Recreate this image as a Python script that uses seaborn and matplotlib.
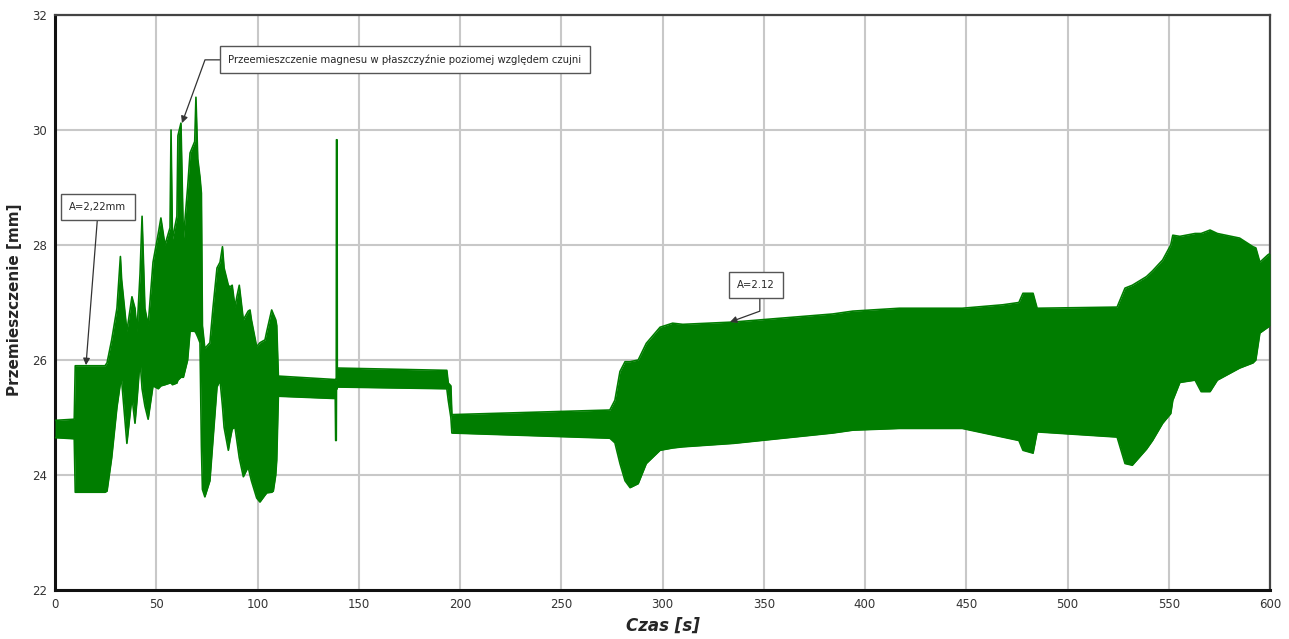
import matplotlib
matplotlib.use("Agg")
import matplotlib.pyplot as plt
import seaborn as sns
import pandas as pd

# ---- data (envelope of the dense oscillation) ----
time_s = [0, 9.5, 10.0, 24.7, 25.7, 28, 30.6, 32.3, 32.9, 35.5, 38, 39.5, 40.5, 42, 43,
          44.4, 46, 48.4, 51, 52.3, 54.3, 56.8, 57.3, 58.0, 60.2, 60.7, 62.2, 63.4, 65.5,
          66.7, 69.0, 69.6, 70.5, 71.6, 72.3, 72.8, 74, 76.5, 78, 80, 81.5, 82.7, 83.5,
          85.6, 86.4, 87.5, 88.9, 89.8, 91, 93, 95.4, 96.3, 97, 99.6, 101.2, 103.7, 104.6,
          107, 107.8, 109, 109.5, 110.3, 138.4, 138.6, 138.9, 139.0, 139.3, 139.4, 193.5,
          194.2, 195.5, 196.0, 274, 276.5, 279, 281.5, 284, 288, 292, 298.8, 305, 310, 335,
          384, 394, 417, 448, 468, 476, 478, 483, 485, 524.5, 528.4, 532, 539, 542, 547,
          551, 552, 555.5, 563, 566, 570.4, 574, 585, 591.6, 593, 595, 599, 600]
upper_mm = [24.95, 24.97, 25.90, 25.90, 25.95, 26.35, 26.9, 27.8, 27.4, 26.5, 27.1, 26.9,
            26.5, 27.5, 28.5, 26.9, 26.6, 27.7, 28.2, 28.47, 28.0, 28.3, 30.0, 28.1, 28.5,
            29.9, 30.12, 28.1, 29.0, 29.6, 29.8, 30.57, 29.5, 29.18, 28.9, 26.6, 26.2, 26.3,
            26.9, 27.6, 27.7, 27.97, 27.6, 27.3, 27.27, 27.3, 26.92, 27.1, 27.3, 26.7, 26.85,
            26.87, 26.7, 26.23, 26.3, 26.35, 26.5, 26.87, 26.8, 26.7, 26.6, 25.72, 25.66,
            25.66, 25.66, 29.83, 29.83, 25.86, 25.82, 25.6, 25.55, 25.05, 25.13, 25.3, 25.8,
            25.97, 25.97, 26.0, 26.29, 26.57, 26.64, 26.62, 26.66, 26.8, 26.85, 26.9, 26.9,
            26.96, 27.0, 27.16, 27.16, 26.9, 26.92, 27.25, 27.3, 27.45, 27.55, 27.74, 28.0,
            28.17, 28.15, 28.2, 28.2, 28.26, 28.2, 28.12, 27.97, 27.95, 27.7, 27.83, 27.85]
lower_mm = [24.65, 24.63, 23.70, 23.70, 23.72, 24.3, 25.18, 25.6, 25.65, 24.55, 25.36, 24.9,
            25.3, 26.0, 25.5, 25.2, 24.97, 25.55, 25.5, 25.55, 25.57, 25.6, 25.6, 25.57, 25.6,
            25.65, 25.7, 25.7, 26.0, 26.5, 26.5, 26.47, 26.4, 26.3, 24.5, 23.75, 23.62, 23.9,
            24.6, 25.53, 25.65, 25.2, 24.83, 24.43, 24.6, 24.8, 24.83, 24.6, 24.3, 23.97,
            24.14, 24.0, 23.9, 23.6, 23.53, 23.65, 23.69, 23.7, 23.72, 24.0, 24.26, 25.37,
            25.33, 24.6, 24.6, 25.5, 25.5, 25.53, 25.5, 25.3, 25.0, 24.73, 24.64, 24.56, 24.2,
            23.9, 23.78, 23.85, 24.2, 24.43, 24.47, 24.49, 24.55, 24.73, 24.78, 24.81, 24.81,
            24.66, 24.6, 24.43, 24.38, 24.75, 24.66, 24.2, 24.17, 24.45, 24.6, 24.9, 25.07,
            25.3, 25.61, 25.65, 25.45, 25.45, 25.65, 25.86, 25.95, 26.0, 26.47, 26.57, 26.6]

x_ticks = [0, 50, 100, 150, 200, 250, 300, 350, 400, 450, 500, 550, 600]
y_ticks = [22, 24, 26, 28, 30, 32]

ann_texts = ["A=2,22mm",
             "Przeemieszczenie magnesu w płaszczyźnie poziomej względem czujni",
             "A=2.12"]
ann_points = [(15.3, 25.91), (62.7, 30.12), (333.3, 26.66)]
ann_boxes = [(21.2, 28.66), (172.8, 31.22), (346.2, 27.3)]

df = pd.DataFrame({"t": time_s, "hi": upper_mm, "lo": lower_mm})

sns.set_style("white")
plt.rcParams["font.family"] = ["DejaVu Sans"]

GREEN = "#007d00"
fig = plt.figure(figsize=(12.89, 6.39), dpi=100)
ax = fig.add_axes([55 / 1289, 1 - 590 / 639, 1215 / 1289, 575 / 639])

ax.fill_between(df["t"], df["lo"], df["hi"], color=GREEN, linewidth=0, zorder=3)
sns.lineplot(data=df, x="t", y="hi", ax=ax, color=GREEN, linewidth=1.2, zorder=3)
sns.lineplot(data=df, x="t", y="lo", ax=ax, color=GREEN, linewidth=1.2, zorder=3)

ax.set_xlim(0, 600)
ax.set_ylim(22, 32)
ax.set_xticks(x_ticks)
ax.set_yticks(y_ticks)
ax.grid(True, color="#c8c8c8", linewidth=1.5, zorder=0)
ax.set_axisbelow(True)
ax.tick_params(length=0, labelsize=8.5, labelcolor="#333333", pad=6)

for side in ["left", "bottom"]:
    ax.spines[side].set_linewidth(2.2)
    ax.spines[side].set_color("#111111")
for side in ["top", "right"]:
    ax.spines[side].set_linewidth(1.6)
    ax.spines[side].set_color("#444444")

ax.set_xlabel("Czas [s]", fontsize=12, fontweight="bold", fontstyle="italic")
ax.set_ylabel("Przemieszczenie [mm]", fontsize=11, fontweight="bold")
ax.xaxis.set_label_coords(0.5, -0.047)
ax.yaxis.set_label_coords(-0.027, 0.504)

box = dict(boxstyle="square,pad=0.8", fc="white", ec="#555555", lw=1.0)
arrow_common = dict(arrowstyle="-|>", color="#333333", lw=0.9, mutation_scale=10,
                    shrinkA=0, shrinkB=0)

ax.annotate(ann_texts[0], xy=ann_points[0], xytext=ann_boxes[0], fontsize=7.3,
            ha="center", va="center", bbox=box, zorder=6,
            arrowprops=dict(**arrow_common, relpos=(0.5, 0.0)))
ax.annotate(ann_texts[1], xy=ann_points[1], xytext=ann_boxes[1], fontsize=7.3,
            ha="center", va="center", bbox=box, zorder=6,
            arrowprops=dict(**arrow_common, relpos=(0.0, 0.5),
                            connectionstyle="angle,angleA=0,angleB=70,rad=0"))
ax.annotate(ann_texts[2], xy=ann_points[2], xytext=ann_boxes[2], fontsize=7.3,
            ha="center", va="center", bbox=box, zorder=6,
            arrowprops=dict(**arrow_common, relpos=(0.6, 0.0),
                            connectionstyle="angle,angleA=90,angleB=20,rad=0"))

fig.savefig("out.png", dpi=100, facecolor="white")
